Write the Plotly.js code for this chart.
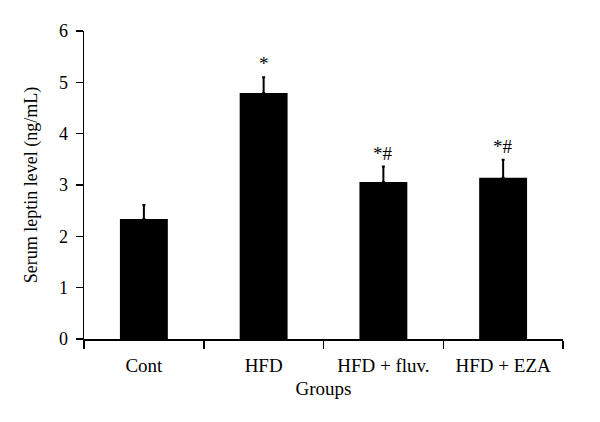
<!DOCTYPE html>
<html>
<head>
<meta charset="utf-8">
<script src="https://cdn.plot.ly/plotly-3.0.1.min.js"></script>
<style>html,body{margin:0;padding:0;background:#fff;}#chart{width:600px;height:422px;}</style>
</head>
<body>
<div id="chart"></div>
<script>
const groups = ["Cont", "HFD", "HFD + fluv.", "HFD + EZA"];
const leptin = [2.34, 4.79, 3.06, 3.14];
const errUp = [0.27, 0.31, 0.30, 0.35];
const sigMarks = ["", "*", "*#", "*#"];

const trace = {
  type: "bar",
  x: groups,
  y: leptin,
  width: 0.4,
  marker: {color: "#000000", line: {width: 0}},
  error_y: {
    type: "data",
    symmetric: false,
    array: errUp,
    arrayminus: errUp.map(() => 0),
    color: "#000000",
    thickness: 2,
    width: 1.5
  },
  hoverinfo: "none"
};

const annotations = groups.map((g, i) => ({
  x: g,
  y: leptin[i] + errUp[i],
  text: sigMarks[i],
  showarrow: false,
  yanchor: "bottom",
  yshift: 1,
  font: {family: "Liberation Serif, serif", size: 19, color: "#000000"}
})).filter(a => a.text !== "");

const layout = {
  width: 600,
  height: 422,
  margin: {l: 84, r: 37, t: 31, b: 83},
  paper_bgcolor: "#fff",
  plot_bgcolor: "#fff",
  showlegend: false,
  font: {family: "Liberation Serif, serif", size: 18, color: "#000000"},
  xaxis: {
    type: "category",
    range: [-0.5, 3.5],
    showline: true,
    linecolor: "#000",
    linewidth: 1.5,
    ticks: "outside",
    tickson: "boundaries",
    ticklen: 8,
    tickwidth: 1.5,
    tickcolor: "#000",
    ticklabelstandoff: 9,
    showgrid: false,
    zeroline: false,
    tickfont: {size: 19, color: "#000000"},
    title: {text: "Groups", font: {size: 19, color: "#000000"}, standoff: 6}
  },
  yaxis: {
    range: [0, 6],
    dtick: 1,
    showline: true,
    linecolor: "#000",
    linewidth: 1.5,
    ticks: "outside",
    ticklen: 7,
    tickwidth: 1.5,
    tickcolor: "#000",
    ticklabelstandoff: 4,
    showgrid: false,
    zeroline: false,
    tickfont: {size: 18, color: "#000000"},
    title: {text: "Serum leptin level (ng/mL)", font: {size: 18, color: "#000000"}, standoff: 16}
  },
  annotations: annotations
};

Plotly.newPlot("chart", [trace], layout, {displayModeBar: false, staticPlot: true});
</script>
</body>
</html>
